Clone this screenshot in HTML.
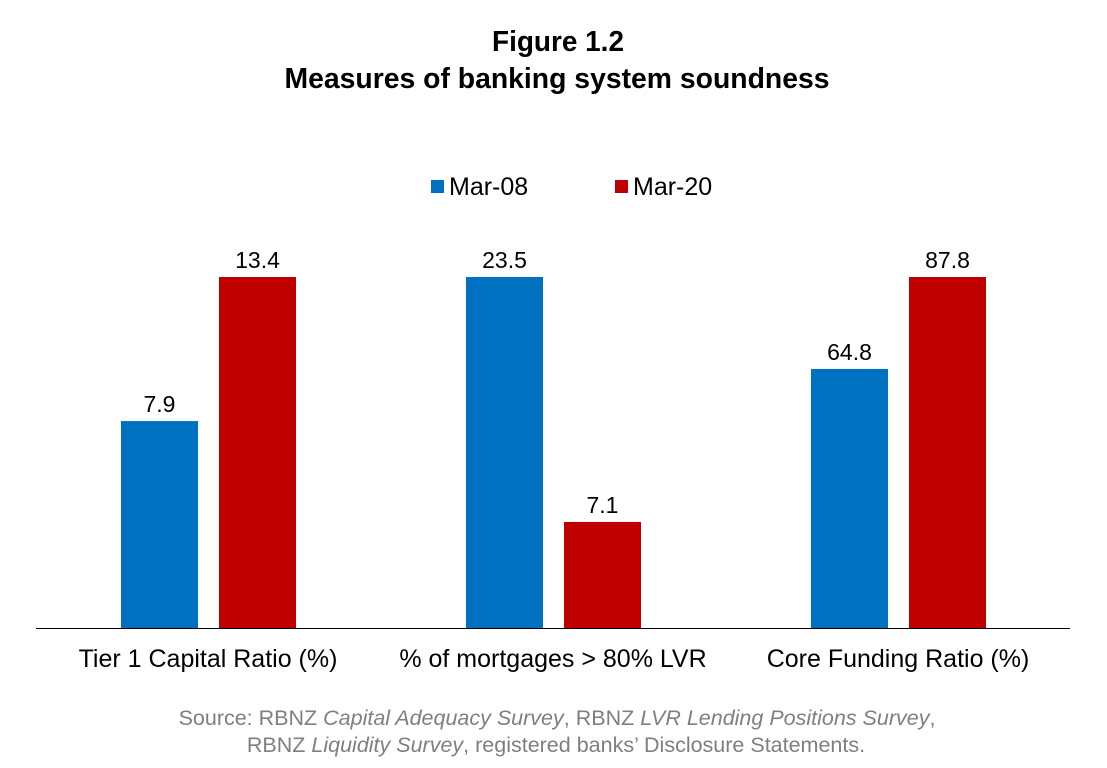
<!DOCTYPE html>
<html><head><meta charset="utf-8"><style>
body{margin:0;background:#fff;width:1107px;height:763px;overflow:hidden;font-family:"Liberation Sans",Arial,sans-serif}
</style></head><body>
<svg id="chart" width="1107" height="763">
<text x="558" y="51" text-anchor="middle" font-weight="bold" font-size="29" textLength="132" lengthAdjust="spacingAndGlyphs">Figure 1.2</text>
<text x="557" y="88" text-anchor="middle" font-weight="bold" font-size="29" textLength="545" lengthAdjust="spacingAndGlyphs">Measures of banking system soundness</text>
<g>
<rect x="431" y="180" width="13" height="13" fill="#0070c0"/>
<text x="449" y="195" font-size="25">Mar-08</text>
<rect x="615" y="180" width="13" height="13" fill="#c00000"/>
<text x="633" y="195" font-size="25">Mar-20</text>
</g>
<g id="bars"></g>
<line x1="36" y1="628.5" x2="1070" y2="628.5" stroke="#000" stroke-width="1"/>
<text x="557" y="725" text-anchor="middle" font-size="21.5" fill="#7f7f7f">Source: RBNZ <tspan font-style="italic">Capital Adequacy Survey</tspan>, RBNZ <tspan font-style="italic">LVR Lending Positions Survey</tspan>,</text>
<text x="556" y="752" text-anchor="middle" font-size="21.5" fill="#7f7f7f">RBNZ <tspan font-style="italic">Liquidity Survey</tspan>, registered banks’ Disclosure Statements.</text>
</svg>
<script>
const categories=["Tier 1 Capital Ratio (%)","% of mortgages > 80% LVR","Core Funding Ratio (%)"];
const mar08=[7.9,23.5,64.8];
const mar20=[13.4,7.1,87.8];
const ns="http://www.w3.org/2000/svg";
const g=document.getElementById("bars");
const base=628, maxH=351, groupW=345;
function xCenter(i){return 208+i*groupW;}
function yScale(v,m){return base-v/m*maxH;}
function mk(tag,attrs){const e=document.createElementNS(ns,tag);for(const k in attrs)e.setAttribute(k,attrs[k]);g.appendChild(e);return e;}
categories.forEach((c,i)=>{
  const m=Math.max(mar08[i],mar20[i]);
  const cx=xCenter(i);
  [[mar08[i],"#0070c0",cx-87,"mar-08"],[mar20[i],"#c00000",cx+11,"mar-20"]].forEach(([v,col,x,s])=>{
    const y=yScale(v,m);
    const r=mk("rect",{x:x,y:y,width:77,height:base-y,fill:col});
    
    
    const t=mk("text",{x:x+38.5,y:y-9,"text-anchor":"middle","font-size":"23"});
    t.textContent=v.toFixed(1);
    
    
  });
  const l=mk("text",{x:cx,y:667,"text-anchor":"middle","font-size":"25"});
  l.textContent=c;
  
  
});
</script>
</body></html>
